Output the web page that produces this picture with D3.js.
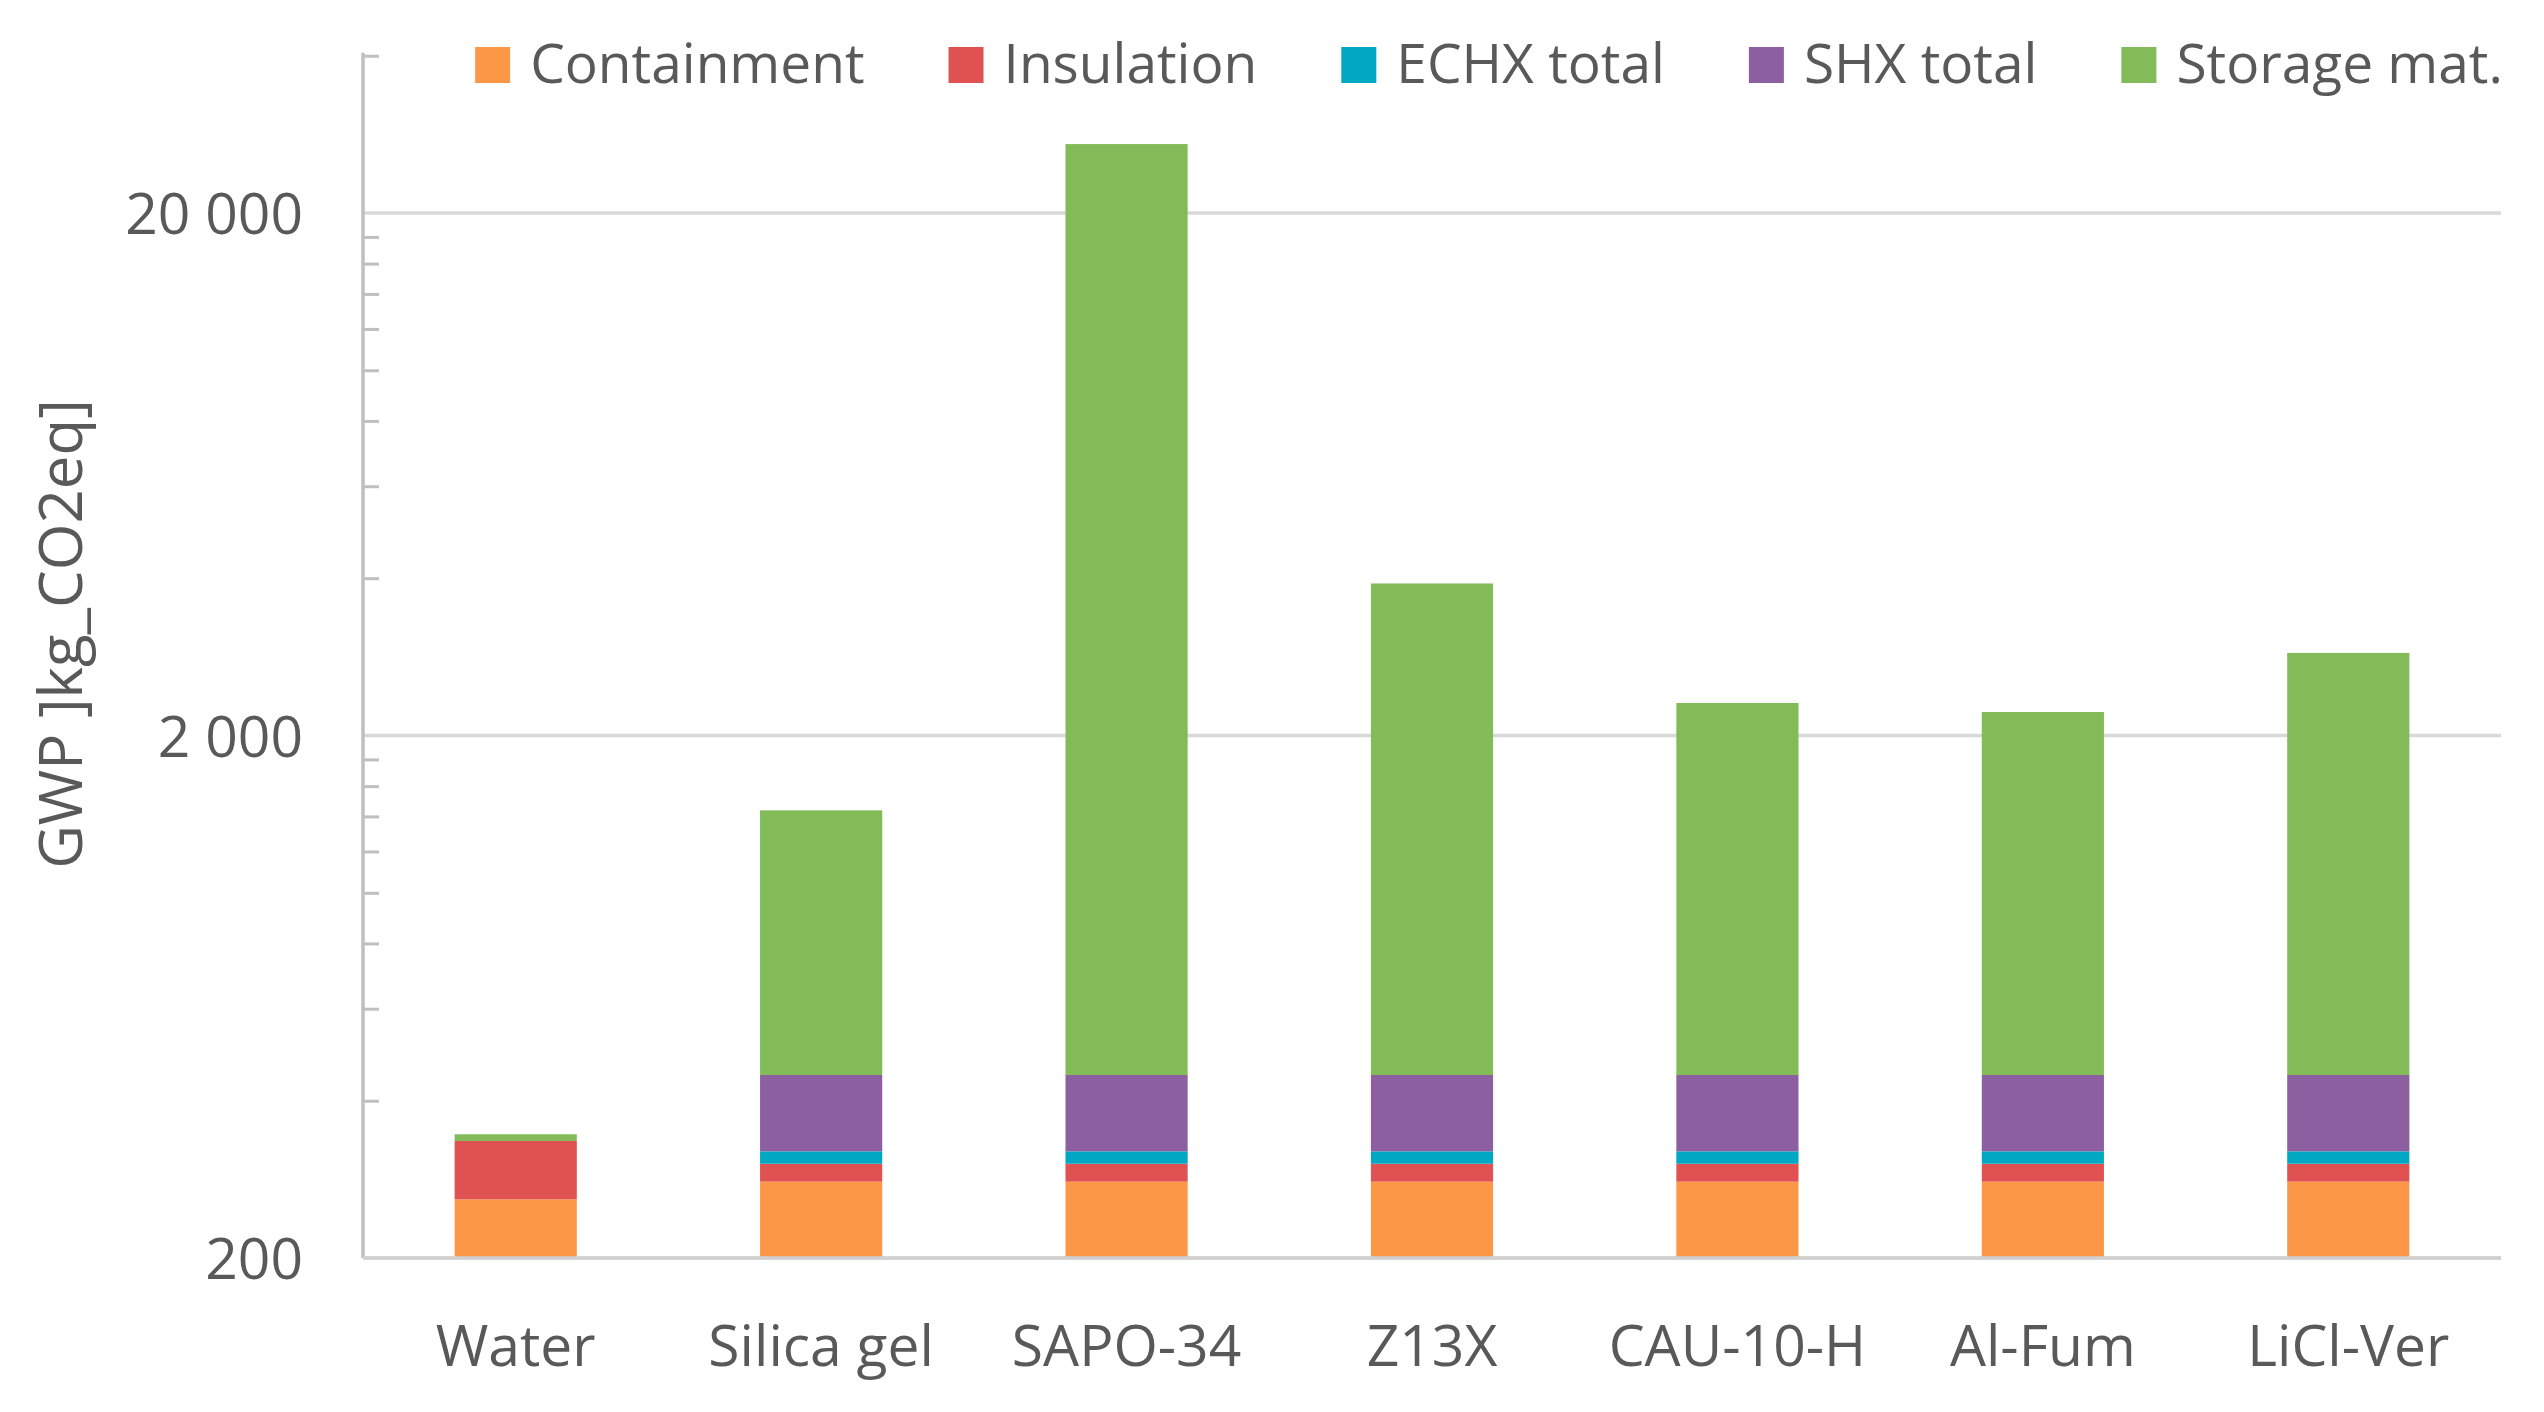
<!DOCTYPE html>
<html>
<head>
<meta charset="utf-8">
<script src="https://cdn.jsdelivr.net/npm/d3@7"></script>
<style>
    html, body { margin: 0; padding: 0; background: #ffffff; }
    svg { display: block; font-family: "Open Sans", "Noto Sans", sans-serif; }
    .lbl { fill: #595959; }
</style>
</head>
<body>
<svg id="chart" width="2544" height="1412"></svg>
<script>
// categories and stacked series (kg CO2eq)
const categories = ['Water', 'Silica gel', 'SAPO-34', 'Z13X', 'CAU-10-H', 'Al-Fum', 'LiCl-Ver'];
const seriesNames = ['Containment', 'Insulation', 'ECHX total', 'SHX total', 'Storage mat.'];
const seriesColors = ['#fd9748', '#e05252', '#00a8c4', '#8c5fa0', '#82bb58'];

const containment = [259, 280, 280, 280, 280, 280, 280];
const insulation = [76, 23, 23, 23, 23, 23, 23];
const echxTotal = [0, 17, 17, 17, 17, 17, 17];
const shxTotal = [0, 128, 128, 128, 128, 128, 128];
const storageMat = [10, 990, 26650, 3460, 1860, 1770, 2430];

const majorTicks = [200, 2000, 20000];
const yMin = 200;
const yMax = 40000;

const svg = d3.select('#chart');

// plot frame
const plotLeft = 363, plotRight = 2501, plotBottom = 1258, decade = 522.5;
const plotTop = plotBottom - decade * Math.log10(yMax / yMin);

const x = d3.scaleBand()
    .domain(categories)
    .range([plotLeft, plotRight])
    .paddingInner(0.6)
    .paddingOuter(0.3);

const y = d3.scaleLog()
    .domain([yMin, yMax])
    .range([plotBottom, plotTop]);

// rows for the stack
const rows = categories.map((c, i) => ({
    cat: c,
    'Containment': containment[i],
    'Insulation': insulation[i],
    'ECHX total': echxTotal[i],
    'SHX total': shxTotal[i],
    'Storage mat.': storageMat[i]
}));
const stacked = d3.stack().keys(seriesNames)(rows);

// gridlines
svg.append('g')
    .selectAll('line')
    .data(majorTicks)
    .join('line')
    .attr('x1', plotLeft)
    .attr('x2', plotRight)
    .attr('y1', d => y(d))
    .attr('y2', d => y(d))
    .attr('stroke', '#d9d9d9')
    .attr('stroke-width', 3.5);

// minor ticks: 2..9 x each major, plus the axis top
const minorTicks = [];
majorTicks.forEach(m => {
    for (let k = 2; k <= 9; k++) {
        if (m * k <= yMax) minorTicks.push(m * k);
    }
});

// bars
svg.append('g')
    .selectAll('g')
    .data(stacked)
    .join('g')
    .attr('fill', (d, i) => seriesColors[i])
    .selectAll('rect')
    .data(d => d.filter(p => p[1] - p[0] > 0))
    .join('rect')
    .attr('x', d => x(d.data.cat))
    .attr('width', x.bandwidth())
    .attr('y', d => y(d[1]))
    .attr('height', d => y(Math.max(d[0], yMin)) - y(d[1]));

// y axis line + minor ticks
const yAxis = d3.axisRight(y)
    .tickValues(minorTicks)
    .tickSize(16)
    .tickFormat('');
const gy = svg.append('g')
    .attr('transform', `translate(${plotLeft},0)`)
    .call(yAxis);
gy.select('.domain').remove();
gy.selectAll('.tick line').attr('stroke', '#bfbfbf').attr('stroke-width', 3);
gy.append('line')
    .attr('x1', 0).attr('x2', 0)
    .attr('y1', plotTop - 3).attr('y2', plotBottom)
    .attr('stroke', '#bfbfbf')
    .attr('stroke-width', 3.5);

// bottom axis line over the bars
svg.append('line')
    .attr('x1', plotLeft).attr('x2', plotRight)
    .attr('y1', plotBottom).attr('y2', plotBottom)
    .attr('stroke', '#d0d0d0')
    .attr('stroke-width', 3.5);

// y tick labels
const fmt = v => d3.format(',')(v).replace(/,/g, ' ');
svg.append('g')
    .selectAll('text')
    .data(majorTicks)
    .join('text')
    .attr('class', 'lbl')
    .attr('x', plotLeft - 60)
    .attr('y', d => y(d) + 21)
    .attr('text-anchor', 'end')
    .attr('font-size', 57)
    .text(fmt);

// category labels
svg.append('g')
    .selectAll('text')
    .data(categories)
    .join('text')
    .attr('class', 'lbl')
    .attr('x', d => x(d) + x.bandwidth() / 2)
    .attr('y', 1366)
    .attr('text-anchor', 'middle')
    .attr('font-size', 57)
    .text(d => d);

// axis title
svg.append('text')
    .attr('class', 'lbl')
    .attr('transform', 'translate(82,634) rotate(-90)')
    .attr('text-anchor', 'middle')
    .attr('font-size', 60)
    .text('GWP ]kg_CO2eq]');

// legend, laid out item by item
const legend = svg.append('g');
let lx = 0;
seriesNames.forEach((name, i) => {
    const item = legend.append('g').attr('transform', `translate(${lx},0)`);
    item.append('rect')
        .attr('x', 0).attr('y', 47)
        .attr('width', 35).attr('height', 36)
        .attr('fill', seriesColors[i]);
    const t = item.append('text')
        .attr('class', 'lbl')
        .attr('x', 55)
        .attr('y', 83)
        .attr('font-size', 55)
        .text(name);
    lx += 55 + t.node().getComputedTextLength() + 84;
});
const legendWidth = lx - 84;
legend.attr('transform', `translate(${1489 - legendWidth / 2},0)`);
</script>
</body>
</html>
